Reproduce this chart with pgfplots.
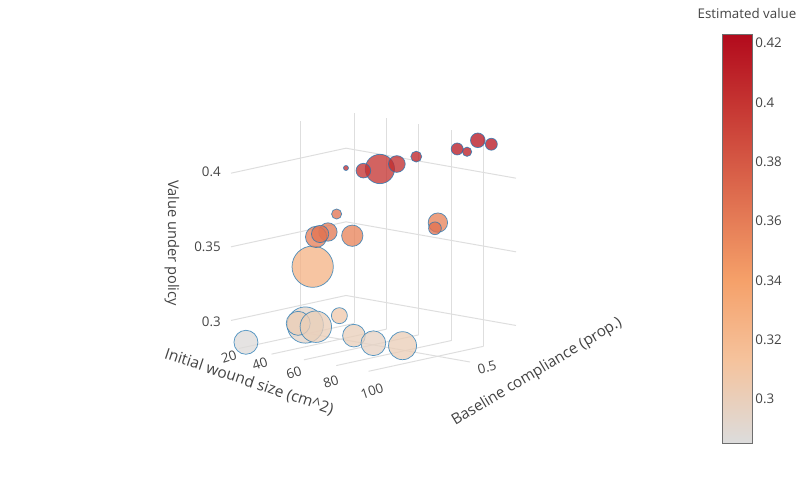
\documentclass[border=0pt]{standalone}
\usepackage{pgfplots}
\pgfplotsset{compat=1.18}
\usepackage{pgfplotstable}
\usepackage{fontspec}
\setmainfont{Open Sans}
\usetikzlibrary{calc}
\definecolor{txt}{RGB}{68,68,68}
\definecolor{gridc}{RGB}{222,222,222}
\definecolor{mline}{RGB}{31,119,180}
\definecolor{cbline}{RGB}{110,110,110}
\pgfplotsset{colormap={plotlyreds}{rgb255(0cm)=(220,220,220); rgb255(2cm)=(245,195,157); rgb255(4cm)=(245,160,105); rgb255(10cm)=(178,10,28)}}
\pgfdeclareverticalshading{redsbar}{22.5pt}{rgb(0pt)=(0.8627,0.8627,0.8627); rgb(61.35pt)=(0.9608,0.7647,0.6157); rgb(122.7pt)=(0.9608,0.6275,0.4118); rgb(306.75pt)=(0.6980,0.0392,0.1098)}

\pgfplotstableread{
x y z c r
34.2 0.524 0.365 0.365 3.8
27.8 0.465 0.330 0.325 15.5
75.3 0.675 0.362 0.356 7.3
91.9 0.685 0.413 0.413 3.5
88.8 0.664 0.415 0.415 4.5
33.6 0.392 0.294 0.294 13.6
61.5 0.520 0.401 0.400 11.0
75.3 0.581 0.410 0.410 4.1
98.4 0.686 0.422 0.418 5.5
68.7 0.543 0.405 0.404 6.3
55.1 0.445 0.357 0.356 8.0
106.9 0.685 0.421 0.417 4.5
47.9 0.390 0.360 0.362 6.9
63.1 0.437 0.403 0.402 5.5
57.6 0.400 0.405 0.405 1.9
92.4 0.542 0.366 0.366 4.8
23.1 0.208 0.2865 0.2865 9.0
47.0 0.267 0.302 0.302 9.0
62.9 0.334 0.308 0.306 6.0
56.2 0.280 0.362 0.358 8.0
58.3 0.264 0.302 0.301 11.8
64.5 0.239 0.367 0.365 6.5
80.7 0.272 0.300 0.300 8.5
90.0 0.291 0.296 0.296 9.3
113.0 0.256 0.300 0.301 10.5
}\bubbles

\begin{document}
\begin{tikzpicture}
\begin{scope}[overlay]
\begin{axis}[
  disabledatascaling,
  x={(1.214286pt,-0.214286pt)}, y={(172.5pt,37.5pt)}, z={(0pt,1104.75pt)},
  xmin=15, xmax=120, ymin=0.2, ymax=0.7, zmin=0.282, zmax=0.425,
  xtick={20,40,60,80,100}, ytick={0.5}, ztick={0.3,0.35,0.4},
  xticklabels={}, yticklabels={}, zticklabels={},
  grid=major, major grid style={draw=gridc, line width=0.75pt},
  axis line style={draw=none}, tick style={draw=none},
  clip=false,
  colormap name=plotlyreds, point meta min=0.2852, point meta max=0.4230,
]
\coordinate (O) at (axis cs:15,0.2,0.282);
\addplot3[scatter, only marks, mark=*, point meta=\thisrow{c},
  scatter/use mapped color={draw=mline, fill=mapped color, draw opacity=0.75, fill opacity=0.77, line width=0.55pt},
  visualization depends on={\thisrow{r} \as \rad},
  scatter/@pre marker code/.append style={/tikz/mark size=\rad}]
  table[x=x, y=y, z=z] {\bubbles};
\end{axis}
\end{scope}

\begin{scope}[shift={(O)}, x=0.75pt, y=-0.75pt, shift={(-231,-347)}]
\useasboundingbox (0,0) rectangle (800,494);
\coordinate (CB) at (722,443);
\node[inner sep=0pt, anchor=south west] at (722,443) {\pgfuseshading{redsbar}};
\begin{scope}[every node/.style={text=txt, font=\fontsize{10}{12}\selectfont, inner sep=0pt}]
\node[anchor=east] at (221,172) {0.4};
\node[anchor=east] at (221,247) {0.35};
\node[anchor=east] at (221,322) {0.3};
\node[rotate=18] at (229,357) {20};
\node[rotate=18] at (260,364) {40};
\node[rotate=18] at (294,373) {60};
\node[rotate=18] at (331,382) {80};
\node[rotate=18] at (372,391) {100};
\node[rotate=15] at (487,367) {0.5};
\node at (747,13) {Estimated value};
\end{scope}
\begin{scope}[every node/.style={text=txt, inner sep=0pt}]
\node[rotate=-90, font=\fontsize{11}{13}\selectfont] at (172,243) {Value under policy};
\node[rotate=-18.5, font=\fontsize{11.6}{14}\selectfont] at (249,382) {Initial wound size (cm\textasciicircum 2)};
\node[rotate=31, font=\fontsize{11.4}{14}\selectfont] at (537,372) {Baseline compliance (prop.)};
\end{scope}
\end{scope}

\begin{scope}[overlay]
\begin{axis}[at={(CB)}, anchor=south west, scale only axis, width=22.5pt, height=306.75pt,
  xmin=0, xmax=1, ymin=0.2852, ymax=0.4230, xtick=\empty,
  ytick={0.3,0.32,0.34,0.36,0.38,0.4,0.42},
  yticklabel pos=right, tick style={draw=none},
  axis line style={draw=cbline, line width=0.75pt},
  /pgf/number format/assume math mode=true,
  yticklabel style={text=txt, font=\fontsize{10}{12}\selectfont, xshift=-1pt}]
\addplot[draw=none, forget plot] coordinates {(0.5,0.35)};
\end{axis}
\end{scope}
\end{tikzpicture}
\end{document}
